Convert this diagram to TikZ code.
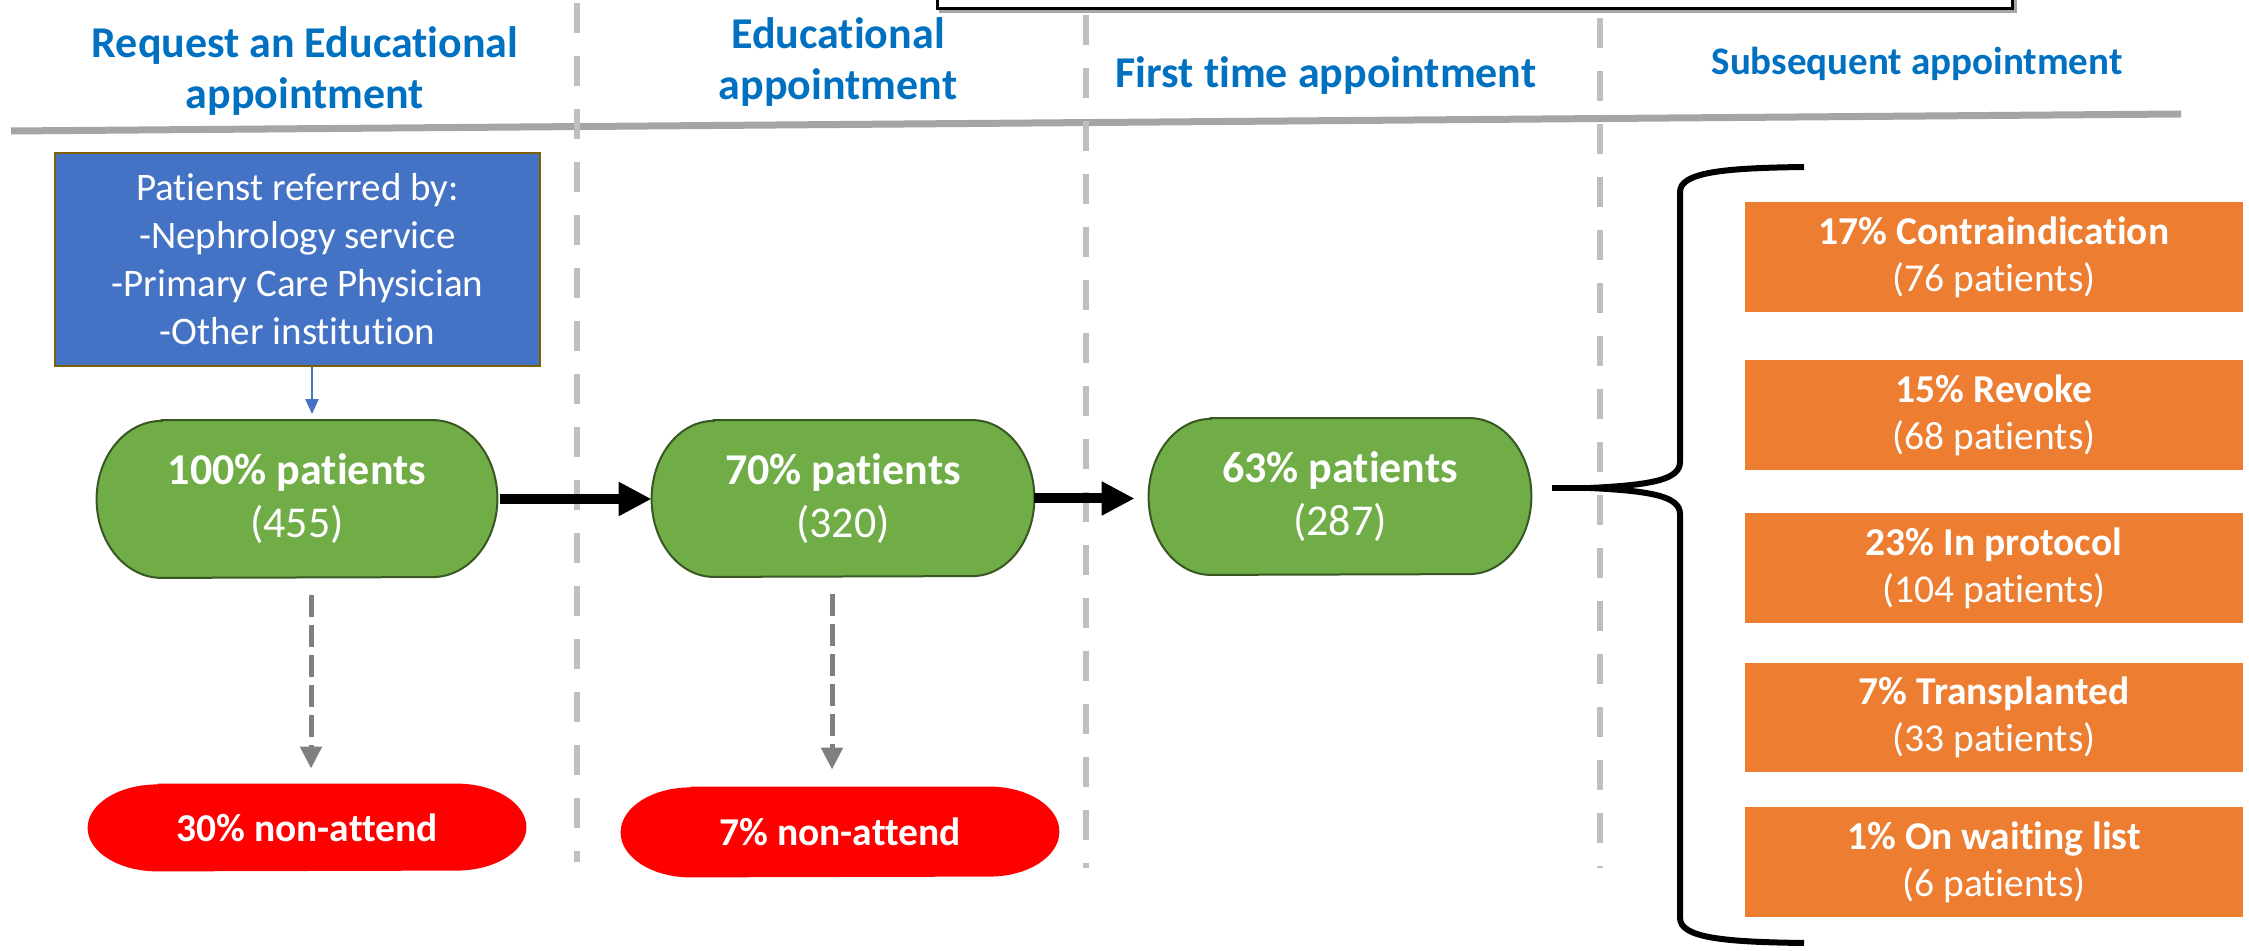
\documentclass[tikz,border=0pt]{standalone}
\usepackage{fontspec}
\setmainfont{Carlito}[RawFeature={-liga}]
\usetikzlibrary{arrows.meta,calc,backgrounds}
\definecolor{hdrblue}{HTML}{0070C0}
\definecolor{boxblue}{HTML}{4472C4}
\definecolor{boxbrown}{HTML}{7F6000}
\definecolor{gfill}{HTML}{70AD47}
\definecolor{gline}{HTML}{385723}
\definecolor{redfill}{HTML}{FF0000}
\definecolor{orfill}{HTML}{ED7D31}
\definecolor{darkgray}{HTML}{7F7F7F}
\definecolor{divgray}{HTML}{BFBFBF}
\definecolor{topgray}{HTML}{A5A5A5}
\newcommand\stadium[4]{%
  \path[#2] ([xshift=#3]#1.north west) -- ([xshift=-#3]#1.north east)
    arc[start angle=90,end angle=-90,x radius=#3,y radius=#4]
    -- ([xshift=#3]#1.south west)
    arc[start angle=270,end angle=90,x radius=#3,y radius=#4] -- cycle;}
\begin{document}
\begin{tikzpicture}[x=0.5pt,y=-0.5pt,
  hdr/.style={text=hdrblue, font=\fontsize{22}{25.5}\selectfont\bfseries, align=center, inner sep=0pt},
  bluebox/.style={fill=boxblue, draw=boxbrown, line width=1.3pt, text=white, align=center,
    font=\fontsize{19.5}{24}\selectfont, minimum width=242.5pt, minimum height=106.5pt, inner sep=0pt},
  gnode/.style={text=white, align=center, font=\fontsize{22}{26.5}\selectfont, inner sep=0pt},
  gshape/.style={fill=gfill, draw=gline, line width=1pt},
  rnode/.style={text=white, align=center, font=\fontsize{19.75}{23.5}\selectfont\bfseries, inner sep=0pt},
  rshape/.style={fill=redfill},
  onode/.style={fill=orfill, text=white, align=center, font=\fontsize{19.75}{23.5}\selectfont,
    minimum width=249pt, minimum height=55pt, inner sep=0pt},
  divider/.style={draw=divgray, line width=3pt, dash pattern=on 15pt off 11.5pt},
  barrow/.style={draw=black, line width=5pt, -{Triangle[length=16.5pt,width=16pt]}},
  darrow/.style={draw=darkgray, line width=2.5pt, dash pattern=on 11pt off 4pt, -{Triangle[length=11pt,width=10.5pt]}},
  bluearrow/.style={draw=boxblue, line width=1pt, -{Triangle[length=7.5pt,width=6.5pt]}},
  bracepen/.style={draw=black, line width=3pt}
]
\useasboundingbox (0,0) rectangle (2249,951);
% top box (cut off)
\draw[line width=1.5pt, draw=gray!70] (940,-20) rectangle (2015,12);
\draw[line width=1.5pt, fill=white] (937,-20) rectangle (2012,9);
% headers
\node[hdr] (h1) at (305,71) {Request an Educational\\appointment};
\node[hdr] (h2) at (838,62) {Educational\\appointment};
\node[hdr] (h3) at (1326,75.5) {First time appointment};
\node[hdr, font=\fontsize{19.5}{23}\selectfont\bfseries] (h4) at (1917,64) {Subsequent appointment};
% horizontal rule and dividers
\draw[line width=3.5pt, draw=topgray] (11,131) -- (2181,114);
\draw[divider] (577,3) -- (577,862);
\draw[divider] (1086,15) -- (1086,868);
\draw[divider] (1600,18) -- (1600,868);
% blue box
\node[bluebox] (src) at (297.5,259.5) {Patienst referred by:\\-Nephrology service\\-Primary Care Physician\\-Other institution};
% green nodes
\node[gnode, minimum width=200pt, minimum height=78.5pt] (g1) at (297,499) {\textbf{100\% patients}\\(455)};
\node[gnode, minimum width=191pt, minimum height=78pt] (g2) at (843,498.5) {\textbf{70\% patients}\\(320)};
\node[gnode, minimum width=191pt, minimum height=78pt] (g3) at (1340,496.5) {\textbf{63\% patients}\\(287)};
% red nodes
\node[rnode, minimum width=219pt, minimum height=43.5pt] (r1) at (307,827.5) {30\% non-attend};
\node[rnode, minimum width=219pt, minimum height=45pt] (r2) at (840,832) {7\% non-attend};
\begin{scope}[on background layer]
  \stadium{g1}{gshape}{32.5pt}{39.25pt}
  \stadium{g2}{gshape}{31pt}{39pt}
  \stadium{g3}{gshape}{31pt}{39pt}
  \stadium{r1}{rshape}{35pt}{21.75pt}
  \stadium{r2}{rshape}{35pt}{22.5pt}
\end{scope}
% orange boxes
\node[onode] (o1) at (1994,257) {\textbf{17\% Contraindication}\\(76 patients)};
\node[onode] (o2) at (1994,415) {\textbf{15\% Revoke}\\(68 patients)};
\node[onode] (o3) at (1994,568) {\textbf{23\% In protocol}\\(104 patients)};
\node[onode, minimum height=54.5pt] (o4) at (1994,717.5) {\textbf{7\% Transplanted}\\(33 patients)};
\node[onode] (o5) at (1994,862) {\textbf{1\% On waiting list}\\(6 patients)};
% connectors
\coordinate (bs) at ($(src.south)+(14.5,0)$);
\draw[bluearrow, shorten >=3pt] (bs) -- (bs |- g1.north);
\draw[barrow] ([xshift=1.5pt]g1.east) -- (g1.east -| g2.west);
\draw[barrow, shorten >=7pt] (g2.east) -- (g2.east -| g3.west);
\coordinate (a1s) at ($(g1.south)+(14,17)$);
\draw[darrow, shorten >=7.5pt] (a1s) -- (a1s |- r1.north);
\coordinate (a2s) at ($(g2.south)+(-11,17)$);
\draw[darrow, shorten >=8.5pt] (a2s) -- (a2s |- r2.north);
% brace
\coordinate (btip) at (1590,488);
\draw[bracepen] (1804,167) .. controls (1725,168) and (1680,172) .. (1680,192)
  -- (1680,462) .. controls (1680,480) and (1650,485) .. (btip)
  .. controls (1650,491) and (1680,496) .. (1680,514)
  -- (1680,918) .. controls (1680,938) and (1725,942) .. (1804,943);
\draw[bracepen] ($(g3.east |- btip)+(21,0)$) -- (btip);
\end{tikzpicture}
\end{document}
